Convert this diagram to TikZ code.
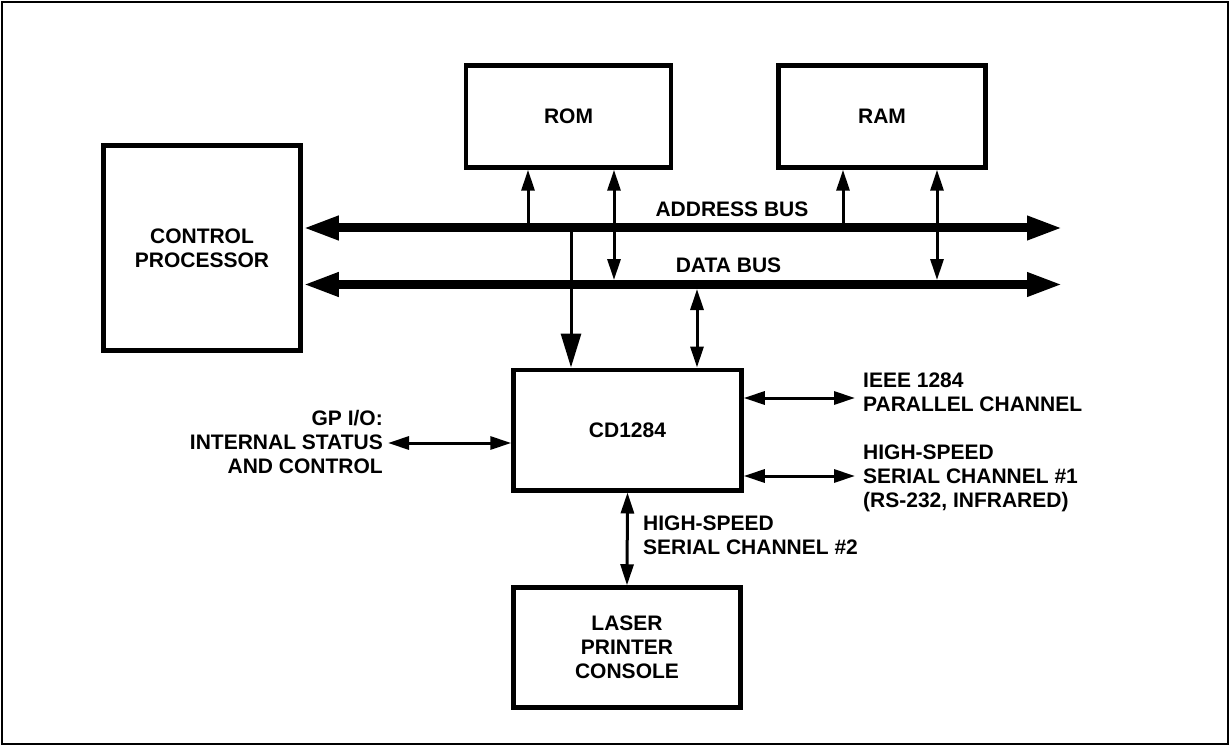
\documentclass[tikz,border=0pt]{standalone}
\usepackage{fontspec}
\setmainfont{Liberation Sans}
\usepackage{tikz}
\usetikzlibrary{arrows.meta}

\begin{document}
\begin{tikzpicture}[x=1pt, y=-1pt, font=\bfseries\fontsize{21}{24}\selectfont]
\tikzstyle{blk} = [draw, line width=4.5pt, align=center, inner sep=0pt]
\tikzstyle{lbl} = [inner sep=0pt]
\tikzstyle{bus} = [line width=9pt, {Triangle[length=36pt,width=22pt]}-{Triangle[length=36pt,width=22pt]}]
\tikzstyle{sig} = [line width=3pt, -{Triangle[length=21pt,width=13pt]}]
\tikzstyle{bigsig} = [line width=3pt, -{Triangle[length=34pt,width=20pt]}]
\tikzstyle{bisig} = [line width=3pt, {Triangle[length=21pt,width=13pt]}-{Triangle[length=21pt,width=13pt]}]
\useasboundingbox (0,0) rectangle (1229,746);
\draw[line width=2pt] (2,2) rectangle (1228,744);
% blocks
\node[blk, minimum width=197pt, minimum height=205pt] (cp) at (202,248) {CONTROL\\PROCESSOR};
\node[blk, minimum width=205pt, minimum height=102pt] (rom) at (568.5,116.5) {ROM};
\node[blk, minimum width=207pt, minimum height=102pt] (ram) at (882,116.5) {RAM};
\node[blk, minimum width=228pt, minimum height=120.5pt] (cd) at (627.5,430) {CD1284};
\node[blk, minimum width=227pt, minimum height=120pt] (con) at (627,647.5) {LASER\\PRINTER\\CONSOLE};
% buses
\coordinate (ab) at (1063,228);
\coordinate (db) at (1063,284.5);
\draw[bus] (cp.east |- ab) -- (ab);
\draw[bus] (cp.east |- db) -- (db);
\node[lbl] (abl) at (732,209) {ADDRESS BUS};
\node[lbl] (dbl) at (728.5,265) {DATA BUS};
% memory taps
\coordinate (r1) at (528,228);
\coordinate (r2) at (614,280);
\coordinate (m1) at (843,228);
\coordinate (m2) at (937,280);
\draw[sig] (r1) -- (r1 |- rom.south);
\draw[bisig] (r2 |- rom.south) -- (r2);
\draw[sig] (m1) -- (m1 |- ram.south);
\draw[bisig] (m2 |- ram.south) -- (m2);
% CD1284 taps
\coordinate (a1) at (571,228);
\coordinate (d1) at (697,289);
\draw[bigsig] (a1) -- (a1 |- cd.north);
\draw[bisig] (d1) -- (d1 |- cd.north);
% channels
\coordinate (par) at (855,398);
\coordinate (ser) at (855,476);
\coordinate (gp) at (388,443);
\draw[bisig] (par -| cd.east) -- (par);
\draw[bisig] (ser -| cd.east) -- (ser);
\draw[bisig] (gp) -- (gp -| cd.west);
\draw[bisig] (cd.south) -- (con.north);
\node[lbl, anchor=west, align=left] (parl) at (863,392) {IEEE 1284\\PARALLEL CHANNEL};
\node[lbl, anchor=west, align=left] (serl) at (863,478) {HIGH-SPEED\\SERIAL CHANNEL \#1\\(RS-232, INFRARED)};
\node[lbl, anchor=east, align=right] (gpl) at (383,442) {GP I/O:\\INTERNAL STATUS\\AND CONTROL};
\node[lbl, anchor=west, align=left] (conl) at (643,535) {HIGH-SPEED\\SERIAL CHANNEL \#2};
\end{tikzpicture}
\end{document}
